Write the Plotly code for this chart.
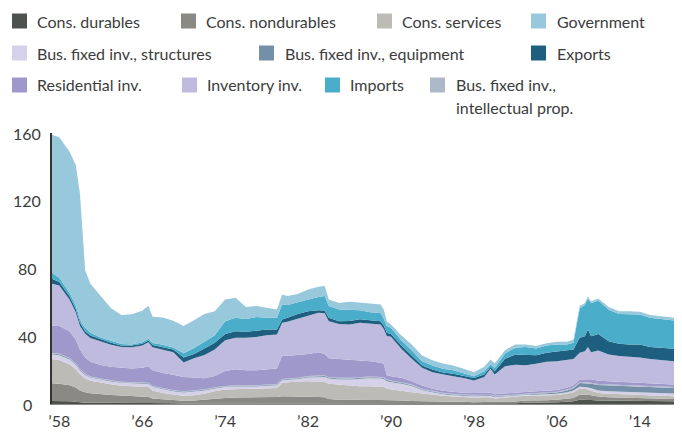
import plotly.graph_objects as go

years = [1957.3, 1958, 1959, 1959.6, 1960, 1960.25, 1960.5, 1961, 1962, 1963, 1964, 1965, 1966, 1966.6,
         1967, 1968, 1969, 1970, 1971, 1972, 1973, 1974, 1975, 1976, 1977, 1978, 1979, 1979.5, 1980,
         1981, 1982, 1983, 1983.6, 1984, 1985, 1986, 1987, 1988, 1989, 1989.3, 1989.6, 1990, 1991,
         1992, 1993, 1994, 1995, 1996, 1997, 1998, 1999, 1999.6, 2000, 2001, 2002, 2003, 2004, 2005,
         2006, 2007, 2007.6, 2008.2, 2008.7, 2009, 2009.3, 2010, 2011, 2012, 2013, 2014, 2015, 2016,
         2017, 2017.3]

cons_durables = [1.8, 1.8, 1.6, 1.3, 1.0, 0.9, 0.8, 0.7, 0.6, 0.6, 0.6, 0.6, 0.6, 0.6, 0.5, 0.4, 0.4, 0.3, 0.3, 0.4,
                 0.4, 0.4, 0.4, 0.4, 0.4, 0.5, 0.5, 0.7, 0.7, 0.7, 0.7, 0.7, 0.6, 0.5, 0.5, 0.5, 0.5, 0.5, 0.5, 0.5, 0.5, 0.5,
                 0.5, 0.4, 0.4, 0.4, 0.4, 0.3, 0.3, 0.3, 0.3, 0.3, 0.3, 0.4, 0.5,
                 0.8, 0.8, 1.0, 1.1, 1.3, 1.6, 2.5, 2.6, 2.5, 2.3, 2.0, 1.9, 1.8, 1.8, 1.7, 1.7, 1.6, 1.6, 1.6]

cons_nondurables = [10.5, 10.2, 9.4, 8.5, 7.0, 6.5, 6.2, 5.7, 5.1, 4.7, 4.4, 4.2, 3.8, 3.6, 2.8, 2.4, 1.9, 1.6, 1.8, 2.2,
                    2.9, 3.2, 3.4, 3.4, 3.4, 3.5, 3.7, 3.9, 3.9, 3.8, 3.6, 3.5, 3.4, 2.5, 2.0, 1.8, 1.8, 1.8, 1.8, 1.8, 1.7, 1.7,
                    1.5, 1.4, 1.2, 1.1, 1.0, 1.0, 1.0, 0.7, 0.9, 1.0, 0.7, 0.8, 1.0,
                    1.2, 1.2, 1.2, 1.4, 1.7, 2.0, 3.0, 3.0, 3.0, 2.9, 2.5, 2.1, 2.0, 1.8, 1.7, 1.5, 1.4, 1.3, 1.3]

cons_services = [14.3, 14.0, 12.5, 10.7, 9.5, 8.6, 8.0, 7.4, 6.9, 6.3, 5.8, 5.7, 6.1, 5.8, 4.7, 3.7, 3.3, 2.9, 3.1, 3.4,
                 4.2, 4.9, 4.9, 5.0, 5.2, 5.3, 5.3, 7.9, 8.2, 8.8, 9.2, 9.1, 9.0, 9.0, 9.0, 8.7, 8.2, 8.2, 7.9, 7.7, 6.8, 6.4,
                 5.6, 5.2, 4.6, 3.9, 3.4, 3.1, 2.7, 2.8, 2.8, 2.7, 2.3, 2.6, 2.8,
                 2.8, 2.8, 2.8, 2.8, 3.2, 3.4, 3.5, 3.4, 3.0, 2.8, 2.0, 2.0, 2.0, 1.9, 1.9, 1.8, 1.8, 1.7, 1.7]

bfi_structures = [2.7, 2.8, 2.8, 2.5, 2.3, 2.2, 2.0, 1.8, 1.7, 1.7, 1.7, 1.7, 1.7, 1.8, 2.0, 2.1, 1.9, 2.0, 2.1, 2.0,
                  1.7, 1.5, 1.6, 1.5, 1.4, 1.5, 1.5, 1.5, 1.4, 1.4, 2.1, 2.7, 3.0, 3.0, 3.0, 3.5, 4.3, 4.7, 4.8, 4.8, 4.5, 4.3,
                  4.3, 3.6, 1.9, 1.4, 1.0, 0.8, 0.8, 0.8, 0.7, 0.7, 0.7, 0.7, 0.7,
                  0.6, 0.7, 0.7, 0.7, 0.8, 1.0, 1.2, 1.2, 1.3, 1.3, 1.5, 1.6, 1.6, 1.6, 1.6, 1.6, 1.6, 1.6, 1.6]

bfi_equipment = [0.5, 0.5, 0.5, 0.5, 0.5, 0.4, 0.4, 0.4, 0.4, 0.4, 0.4, 0.4, 0.4, 0.4, 0.4, 0.4, 0.4, 0.4, 0.4, 0.4,
                 0.4, 0.4, 0.4, 0.4, 0.4, 0.4, 0.5, 0.5, 0.5, 0.5, 0.5, 0.6, 0.6, 0.6, 0.6, 0.6, 0.6, 0.6, 0.6, 0.6, 0.6, 0.6,
                 0.6, 0.5, 0.5, 0.4, 0.4, 0.4, 0.4, 0.4, 0.4, 0.4, 0.4, 0.4, 0.4,
                 0.5, 0.6, 0.7, 0.8, 1.0, 1.3, 2.2, 2.2, 2.5, 2.7, 3.2, 3.3, 3.3, 3.3, 3.3, 3.3, 3.2, 3.2, 3.2]

bfi_ip = [0.4, 0.4, 0.4, 0.4, 0.4, 0.4, 0.4, 0.3, 0.3, 0.3, 0.3, 0.3, 0.3, 0.3, 0.3, 0.3, 0.3, 0.3, 0.3, 0.3,
          0.3, 0.3, 0.3, 0.3, 0.3, 0.3, 0.3, 0.3, 0.3, 0.3, 0.4, 0.4, 0.4, 0.4, 0.4, 0.4, 0.4, 0.4, 0.4, 0.4, 0.4, 0.4,
          0.4, 0.4, 0.4, 0.4, 0.4, 0.4, 0.4, 0.4, 0.4, 0.4, 0.4, 0.4, 0.4,
          0.4, 0.4, 0.4, 0.4, 0.5, 0.5, 0.6, 0.6, 0.7, 0.6, 0.6, 0.6, 0.6, 0.6, 0.6, 0.6, 0.6, 0.6, 0.6]

residential_inv = [16.2, 16.3, 15.8, 14.1, 11.3, 10.5, 9.7, 8.7, 8.0, 8.0, 8.1, 8.1, 8.5, 9.8, 9.3, 9.0, 9.0, 8.5, 7.6, 6.5,
                   6.6, 8.8, 9.5, 9.0, 8.9, 9.0, 9.2, 13.7, 13.5, 13.5, 13.0, 13.5, 12.5, 11.0, 11.0, 10.5, 9.9, 9.1, 8.3, 8.0, 2.5, 2.5,
                   2.6, 2.0, 1.9, 1.4, 1.2, 1.1, 1.1, 1.1, 1.1, 1.2, 1.0, 1.0, 1.0,
                   1.0, 1.0, 1.0, 1.1, 1.3, 1.2, 1.5, 1.7, 1.8, 2.0, 2.0, 2.0, 2.0, 2.0, 2.0, 2.0, 2.0, 2.0, 1.5]

inventory_inv = [24.6, 24.0, 18.5, 16.0, 14.0, 14.0, 14.0, 14.0, 14.0, 13.0, 12.3, 12.5, 13.1, 14.2, 13.5, 13.7, 13.3, 8.5, 11.4, 13.8,
                 15.7, 18.2, 18.6, 19.1, 19.6, 20.1, 20.0, 19.4, 20.0, 21.3, 22.4, 23.4, 24.1, 21.9, 20.8, 21.0, 22.3, 22.0, 22.6, 20.5, 23.1, 23.3,
                 17.1, 13.2, 10.5, 9.8, 9.6, 9.3, 8.6, 7.4, 9.4, 14.1, 11.6, 16.0, 16.4,
                 15.6, 16.2, 17.1, 17.0, 16.1, 15.5, 15.7, 16.5, 18.8, 16.0, 17.8, 15.7, 15.1, 14.9, 14.7, 14.0, 13.7, 13.5, 13.8]

exports = [3.0, 2.0, 2.0, 2.0, 2.0, 2.0, 1.5, 1.5, 1.2, 1.2, 1.0, 1.0, 1.0, 1.0, 1.3, 1.6, 1.7, 3.0, 2.5, 3.8,
           3.9, 3.7, 3.9, 3.5, 3.8, 3.4, 3.0, 2.0, 2.4, 2.9, 2.9, 1.5, 1.6, 2.0, 1.6, 2.0, 2.0, 2.2, 2.0, 2.0, 1.9, 1.7,
           1.9, 1.9, 1.3, 1.6, 1.2, 1.4, 1.1, 1.4, 1.4, 1.1, 2.0, 4.4, 6.0,
           5.9, 5.1, 5.3, 5.9, 5.9, 5.7, 8.9, 8.8, 10.4, 9.4, 9.8, 7.9, 7.1, 7.2, 7.6, 7.1, 7.1, 7.3, 7.3]

imports = [3.5, 2.5, 2.0, 2.0, 2.0, 1.5, 2.0, 1.5, 1.0, 1.0, 0.8, 0.7, 1.0, 1.0, 1.2, 1.4, 1.1, 2.5, 3.5, 3.9,
           4.5, 7.5, 7.9, 7.6, 7.9, 6.9, 6.9, 8.9, 7.5, 6.9, 6.9, 7.7, 8.5, 6.9, 6.9, 6.5, 5.4, 4.7, 4.9, 4.0, 4.0, 3.6,
           3.0, 3.2, 2.6, 2.3, 2.2, 2.2, 1.6, 1.1, 2.0, 1.4, 2.0, 3.1, 4.0,
           4.8, 4.0, 4.3, 3.9, 3.3, 3.9, 17.3, 18.4, 18.3, 19.5, 19.7, 18.5, 17.7, 17.9, 17.7, 17.3, 17.1, 16.9, 16.7]

government = [81.5, 83.0, 83.5, 83.0, 74.0, 53.0, 34.0, 29.0, 24.8, 19.3, 17.1, 17.8, 18.5, 19.5, 15.5, 16.0, 15.9, 16.0, 16.5, 16.5,
              14.2, 12.8, 11.8, 7.0, 6.5, 5.9, 4.9, 5.9, 5.3, 4.9, 5.9, 6.1, 5.9, 3.9, 3.9, 4.8, 4.6, 5.1, 4.9, 5.5, 2.9, 1.9,
              2.9, 3.3, 3.3, 3.2, 3.1, 2.7, 2.8, 2.4, 2.6, 3.0, 2.5, 2.0, 2.0,
              1.5, 1.4, 1.4, 1.6, 1.6, 2.0, 1.4, 1.3, 1.2, 1.2, 1.2, 1.6, 1.6, 1.8, 1.6, 1.6, 1.6, 1.6, 1.6]

x_tick_years = [1958, 1966, 1974, 1982, 1990, 1998, 2006, 2014]
x_tick_labels = ["\u201958", "\u201966", "\u201974", "\u201982", "\u201990", "\u201998", "\u201906", "\u201914"]
y_tick_values = [0, 40, 80, 120, 160]
y_tick_labels = ["0", "40", "80", "120", "160"]

# stacking order bottom -> top
series = [
    ("Cons. durables", cons_durables, "#4d524f"),
    ("Cons. nondurables", cons_nondurables, "#8a8985"),
    ("Cons. services", cons_services, "#bdbbb6"),
    ("Bus. fixed inv., structures", bfi_structures, "#d5d1e8"),
    ("Bus. fixed inv., equipment", bfi_equipment, "#7490a8"),
    ("Bus. fixed inv., intellectual prop.", bfi_ip, "#adb9c9"),
    ("Residential inv.", residential_inv, "#9f98ca"),
    ("Inventory inv.", inventory_inv, "#bebbde"),
    ("Exports", exports, "#1e5f80"),
    ("Imports", imports, "#4aadc9"),
    ("Government", government, "#98c8dc"),
]
colors = {name: c for name, _, c in series}

FONT = "Lato, 'Liberation Sans', Arial, sans-serif"
TEXT_COLOR = "#3c3c3c"

fig = go.Figure()
for name, vals, col in series:
    fig.add_trace(go.Scatter(
        x=years, y=vals, name=name, mode="lines", stackgroup="one",
        line=dict(width=0, color=col), fillcolor=col, showlegend=False,
        hovertemplate=name + ": %{y}<extra></extra>",
    ))

W, H = 682, 445
L, R, T, B = 52, 8, 133, 41
PW, PH = W - L - R, H - T - B


def px_x(px):
    return (px - L) / PW


def px_y(py):
    return (H - B - py) / PH


# manual legend layout (pixel positions)
legend_items = [
    ("Cons. durables", 12, 35, 21),
    ("Cons. nondurables", 181, 204, 21),
    ("Cons. services", 377, 400, 21),
    ("Government", 531, 555, 21),
    ("Bus. fixed inv., structures", 12, 35, 53),
    ("Bus. fixed inv., equipment", 259, 283, 53),
    ("Exports", 531, 555, 53),
    ("Residential inv.", 12, 35, 85),
    ("Inventory inv.", 182, 205, 85),
    ("Imports", 325, 348, 85),
    ("Bus. fixed inv., intellectual prop.", 430, 454, 85),
]
SQ = 15
shapes = []
annotations = []
for name, sx, tx, cy in legend_items:
    shapes.append(dict(type="rect", xref="paper", yref="paper",
                       x0=px_x(sx), x1=px_x(sx + SQ), y0=px_y(cy + SQ / 2), y1=px_y(cy - SQ / 2),
                       fillcolor=colors[name], line=dict(width=0)))
    if name == "Bus. fixed inv., intellectual prop.":
        lines = [("Bus. fixed inv.,", cy), ("intellectual prop.", cy + 23)]
    else:
        lines = [(name, cy)]
    for txt, yy in lines:
        annotations.append(dict(text=txt, xref="paper", yref="paper", x=px_x(tx), y=px_y(yy),
                                xanchor="left", yanchor="middle", showarrow=False,
                                font=dict(family=FONT, size=16, color=TEXT_COLOR)))

for v, lab in zip(y_tick_values, y_tick_labels):
    annotations.append(dict(text=lab, xref="paper", yref="y", x=px_x(27), y=v,
                            xanchor="center", yanchor="middle", showarrow=False,
                            font=dict(family=FONT, size=16, color=TEXT_COLOR)))

fig.update_layout(
    width=W, height=H,
    margin=dict(l=L, r=R, t=T, b=B, pad=0),
    paper_bgcolor="white", plot_bgcolor="white",
    showlegend=False,
    shapes=shapes, annotations=annotations,
    font=dict(family=FONT, size=16, color=TEXT_COLOR),
    xaxis=dict(range=[1957.3, 2017.3], tickvals=x_tick_years, ticktext=x_tick_labels,
               showgrid=False, zeroline=False, showline=True, linecolor="#8a8a8a", linewidth=1,
               ticks="", ticklabelstandoff=3,
               tickfont=dict(family=FONT, size=16, color=TEXT_COLOR), fixedrange=True),
    yaxis=dict(range=[0, 160], showticklabels=False, showgrid=False, zeroline=False,
               showline=True, linecolor="#333333", linewidth=1.5, ticks="", fixedrange=True),
)

fig.write_html("out.html", config={"displayModeBar": False},
               post_script="document.body.style.margin='0';document.body.style.padding='0';")
